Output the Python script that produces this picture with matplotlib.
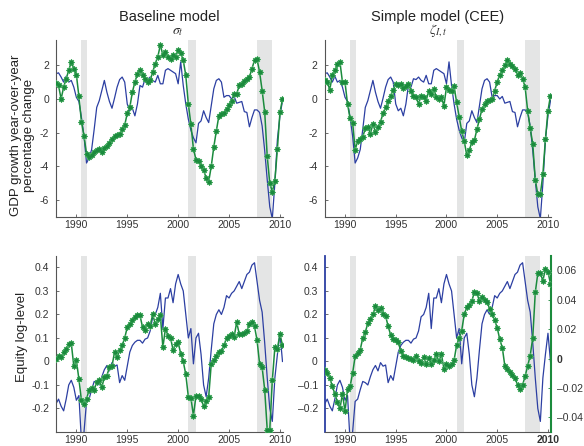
import numpy as np
import matplotlib
matplotlib.use("Agg")
import matplotlib.pyplot as plt

plt.rcParams['font.family'] = ['Liberation Sans', 'DejaVu Sans']
plt.rcParams['mathtext.fontset'] = 'stix'
plt.rcParams['axes.unicode_minus'] = False

# quarterly observations, 1988Q1 - 2010Q2
dates = 1988 + np.arange(90) / 4.0

# GDP growth, year-over-year percentage change (data)
gdp_data = [1.5, 1.55, 1.3, 1.0, 1.35, 1.0, 1.1, 0.7, 0.1, -0.15,
            -1.1, -2.2, -3.8, -3.5, -3.0, -1.8, -0.5, -0.1, 0.5, 1.1,
            0.4, -0.15, -0.55, 0.05, 0.7, 1.15, 1.3, 1.0, -0.3, -0.7,
            -0.55, -1.0, -0.3, 0.8, 0.7, 1.2, 1.15, 1.3, 1.1, 1.0,
            1.4, 0.9, 0.9, 1.7, 1.8, 1.7, 1.6, 1.5, 0.9, 2.2,
            0.8, -0.3, -1.2, -1.85, -2.3, -2.6, -1.45, -1.3, -0.7, -1.1,
            -1.4, -0.4, 0.6, 1.1, 1.2, 1.0, 0.1, 0.2, 0.2, 0.0,
            0.15, -0.25, -0.2, -0.15, -0.75, -0.8, -1.65, -1.1, -0.65, -0.65,
            -0.8, -1.6, -3.05, -4.8, -6.4, -7.1, -5.0, -2.4, -1.0, -0.1]

# GDP growth implied by sigma shock alone (baseline model)
gdp_baseline = [0.95, 0.8, 0.0, 0.7, 1.2, 1.7, 2.2, 1.8, 1.45, 0.15,
                -1.35, -2.2, -3.25, -3.45, -3.3, -3.15, -3.0, -2.95, -3.15, -2.9,
                -2.8, -2.6, -2.4, -2.2, -2.15, -2.05, -1.8, -1.55, -0.85, -0.5,
                0.4, 1.0, 1.5, 1.7, 1.45, 1.2, 1.0, 1.1, 1.6, 2.1,
                2.5, 3.2, 2.6, 2.8, 2.5, 2.4, 2.6, 2.5, 2.9, 2.7,
                2.3, 1.4, -0.3, -1.5, -2.95, -3.6, -3.65, -4.0, -4.2, -4.7,
                -4.9, -4.0, -2.85, -1.9, -1.0, -0.9, -0.85, -0.6, -0.35, -0.1,
                0.3, 0.3, 0.8, 0.9, 1.05, 1.2, 1.3, 1.8, 2.3, 2.35,
                1.6, 0.5, -0.75, -3.4, -5.0, -5.5, -4.85, -2.95, -0.8, 0.0]

# GDP growth implied by investment shock alone (CEE model)
gdp_cee = [1.15, 1.0, 0.55, 1.4, 1.7, 2.05, 2.2, 1.0, 1.0, -0.3,
           -1.15, -1.4, -3.0, -2.5, -2.35, -2.25, -1.75, -1.65, -2.05, -1.5,
           -1.95, -1.65, -1.35, -0.85, -0.5, -0.15, 0.2, 0.55, 0.9, 0.8,
           0.9, 0.65, 0.75, 0.9, 0.5, 0.2, 0.1, -0.3, 0.2, 0.1,
           -0.1, 0.5, 0.3, 0.6, 0.1, 0.0, 0.1, -0.4, 0.7, 0.55,
           0.5, 0.75, -0.2, -1.05, -1.9, -2.5, -3.35, -3.05, -2.55, -2.45,
           -1.8, -1.2, -0.6, -0.3, -0.15, -0.05, 0.0, 0.5, 1.0, 1.45,
           1.7, 2.0, 2.3, 2.1, 1.95, 1.8, 1.45, 1.55, 1.2, 0.7,
           -0.7, -1.75, -2.65, -4.8, -5.65, -5.65, -4.45, -2.4, -0.7, 0.2]

# equity, log level (data)
equity_data = [-0.18, -0.16, -0.19, -0.21, -0.16, -0.10, -0.08, -0.11, -0.165, -0.145,
               -0.34, -0.30, -0.17, -0.16, -0.12, -0.085, -0.09, -0.10, -0.065, -0.035,
               -0.017, -0.04, -0.005, -0.02, -0.015, -0.09, -0.06, -0.08, -0.02, 0.04,
               0.068, 0.082, 0.09, 0.09, 0.078, 0.095, 0.10, 0.13, 0.19, 0.20,
               0.23, 0.29, 0.14, 0.27, 0.27, 0.31, 0.25, 0.33, 0.37, 0.33,
               0.30, 0.20, 0.10, 0.14, -0.01, 0.10, 0.12, 0.03, -0.10, -0.15,
               -0.07, 0.05, 0.16, 0.20, 0.22, 0.20, 0.23, 0.28, 0.27, 0.29,
               0.30, 0.32, 0.34, 0.31, 0.34, 0.37, 0.38, 0.41, 0.42, 0.34,
               0.26, 0.21, 0.08, -0.07, -0.20, -0.255, -0.07, 0.03, 0.12, 0.0]

# equity implied by sigma shock alone (baseline model)
equity_baseline = [0.01, 0.025, 0.018, 0.04, 0.055, 0.075, 0.078, -0.02, 0.005, -0.075,
                   -0.166, -0.18, -0.16, -0.12, -0.113, -0.12, -0.088, -0.08, -0.11, -0.067,
                   -0.06, -0.024, -0.02, 0.04, 0.018, 0.047, 0.068, 0.10, 0.146, 0.16,
                   0.178, 0.19, 0.196, 0.196, 0.146, 0.135, 0.16, 0.153, 0.20, 0.16,
                   0.18, 0.196, 0.06, 0.14, 0.11, 0.10, 0.05, 0.075, 0.082, 0.033,
                   0.0, -0.055, -0.15, -0.155, -0.23, -0.147, -0.147, -0.16, -0.19, -0.17,
                   -0.15, -0.01, 0.005, 0.025, 0.04, 0.045, 0.068, 0.10, 0.11, 0.117,
                   0.105, 0.167, 0.117, 0.117, 0.12, 0.13, 0.16, 0.167, 0.15, 0.09,
                   -0.01, -0.025, -0.12, -0.29, -0.29, -0.08, 0.06, 0.055, 0.117, 0.068]

# equity implied by investment shock alone (CEE model, right axis)
equity_cee = [-0.0076, -0.010, -0.013, -0.019, -0.024, -0.0295, -0.034, -0.024, -0.036, -0.021,
              -0.019, -0.010, 0.0016, 0.004, 0.006, 0.014, 0.018, 0.024, 0.027, 0.030,
              0.0355, 0.033, 0.0345, 0.030, 0.029, 0.022, 0.016, 0.0136, 0.0125, 0.011,
              0.005, 0.002, 0.001, 0.0005, 0.0, -0.001, 0.002, -0.002, -0.003, 0.001,
              -0.004, 0.0005, -0.0035, -0.001, 0.003, -0.002, 0.003, -0.007, -0.004, -0.005,
              -0.004, -0.001, 0.009, 0.014, 0.019, 0.030, 0.035, 0.0365, 0.039, 0.0455,
              0.0445, 0.039, 0.042, 0.040, 0.0385, 0.034, 0.030, 0.026, 0.021, 0.013,
              0.0075, -0.005, -0.007, -0.009, -0.011, -0.013, -0.018, -0.021, -0.018, -0.012,
              -0.005, 0.002, 0.014, 0.045, 0.058, 0.058, 0.053, 0.061, 0.059, 0.051]

recessions = [(1990.5, 1991.05), (2001.0, 2001.75), (2007.7, 2009.25)]

year_ticks = [1990, 1995, 2000, 2005, 2010]
gdp_ticks = [-6, -4, -2, 0, 2]
equity_ticks = [-0.2, -0.1, 0, 0.1, 0.2, 0.3, 0.4]
equity_labels = ['-0.2', '-0.1', '0', '0.1', '0.2', '0.3', '0.4']
cee_ticks = [-0.04, -0.02, 0, 0.02, 0.04, 0.06]
cee_labels = ['\u20130.04', '\u20130.02', '0', '0.02', '0.04', '0.06']

BLUE = '#2c3fa2'
GREEN = '#1b8b3d'
STAR = '#4caf66'
SHADE = '#e4e5e5'
AXIS = '#555555'
TXT = '#333333'


def style(ax):
    for s in ['top', 'right']:
        ax.spines[s].set_visible(False)
    for s in ['left', 'bottom']:
        ax.spines[s].set_color(AXIS)
        ax.spines[s].set_linewidth(0.8)
    ax.tick_params(direction='in', length=2, width=0.6, color=AXIS,
                   labelsize=7.5, labelcolor=TXT)
    ax.tick_params(axis='y', pad=5)
    ax.tick_params(axis='x', pad=2)
    ax.set_xlim(1988, 2010.3)
    ax.set_xticks(year_ticks)
    for a, b in recessions:
        ax.axvspan(a, b, color=SHADE, lw=0, zorder=0)


def model_line(ax, y):
    ax.plot(dates, y, color=GREEN, lw=1.1, zorder=3)
    ax.plot(dates, y, ls='none', marker=(8, 2, 0), ms=4.6, mew=0.8,
            color=STAR, zorder=4)
    ax.plot(dates, y, ls='none', marker='o', ms=3.2, mew=0, color=GREEN, zorder=5)


fig = plt.figure(figsize=(5.84, 4.46), dpi=100)
ax1 = fig.add_axes([0.0959, 0.5135, 0.3887, 0.3969])
ax2 = fig.add_axes([0.556, 0.5135, 0.3875, 0.3969])
ax3 = fig.add_axes([0.0959, 0.0314, 0.3887, 0.3953])
ax4 = fig.add_axes([0.556, 0.0314, 0.3875, 0.3953])

# GDP panels
for ax, model in [(ax1, gdp_baseline), (ax2, gdp_cee)]:
    style(ax)
    ax.plot(dates, gdp_data, color=BLUE, lw=0.9, zorder=2)
    model_line(ax, model)
    ax.set_ylim(-7, 3.5)
    ax.set_yticks(gdp_ticks)

ax1.text(0.5, 1.13, 'Baseline model', transform=ax1.transAxes,
         ha='center', va='center', fontsize=10.5, color='#222222')
ax1.text(0.537, 1.05, r'$\sigma_t$', transform=ax1.transAxes,
         ha='center', va='center', fontsize=10, color='#333333')
ax2.text(0.5, 1.13, 'Simple model (CEE)', transform=ax2.transAxes,
         ha='center', va='center', fontsize=10.5, color='#222222')
ax2.text(0.5, 1.05, r'$\zeta_{I,t}$', transform=ax2.transAxes,
         ha='center', va='center', fontsize=10, color='#333333')
ax1.text(-0.148, 0.463, 'GDP growth year-over-year\npercentage change',
         transform=ax1.transAxes, rotation=90, ha='center', va='center',
         fontsize=9.5, color='#222222', linespacing=1.05)

# equity panels
style(ax3)
ax3.plot(dates, equity_data, color=BLUE, lw=0.9, zorder=2)
model_line(ax3, equity_baseline)
ax3.set_ylim(-0.3, 0.45)
ax3.set_yticks(equity_ticks)
ax3.set_yticklabels(equity_labels)
ax3.text(-0.15, 0.54, 'Equity log-level', transform=ax3.transAxes,
         rotation=90, ha='center', va='center', fontsize=9.5, color='#222222')

style(ax4)
ax4.plot(dates, equity_data, color=BLUE, lw=0.9, zorder=2)
ax4.set_ylim(-0.3, 0.45)
ax4.set_yticks(equity_ticks)
ax4.set_yticklabels(['\u2013' + l[1:] if l.startswith('-') else l for l in equity_labels])
ax4.spines['left'].set_color(BLUE)
ax4.spines['left'].set_linewidth(1.3)

ax4r = ax4.twinx()
model_line(ax4r, equity_cee)
ax4r.set_xlim(1988, 2010.3)
ax4r.set_ylim(-0.05, 0.07)
ax4r.set_yticks(cee_ticks)
ax4r.set_yticklabels(cee_labels)
for s in ['top', 'left', 'bottom']:
    ax4r.spines[s].set_visible(False)
ax4r.spines['right'].set_color(GREEN)
ax4r.spines['right'].set_linewidth(1.5)
ax4r.tick_params(direction='in', length=2, width=0.6, color=GREEN,
                 labelsize=7.5, labelcolor=TXT, pad=4)

# the twin axes print the 2010 tick and the zero label twice, so they come out heavier
ax4.get_xticklabels()[-1].set_fontweight('bold')
ax4r.get_yticklabels()[2].set_fontweight('bold')

fig.savefig('out.png', dpi=100)
